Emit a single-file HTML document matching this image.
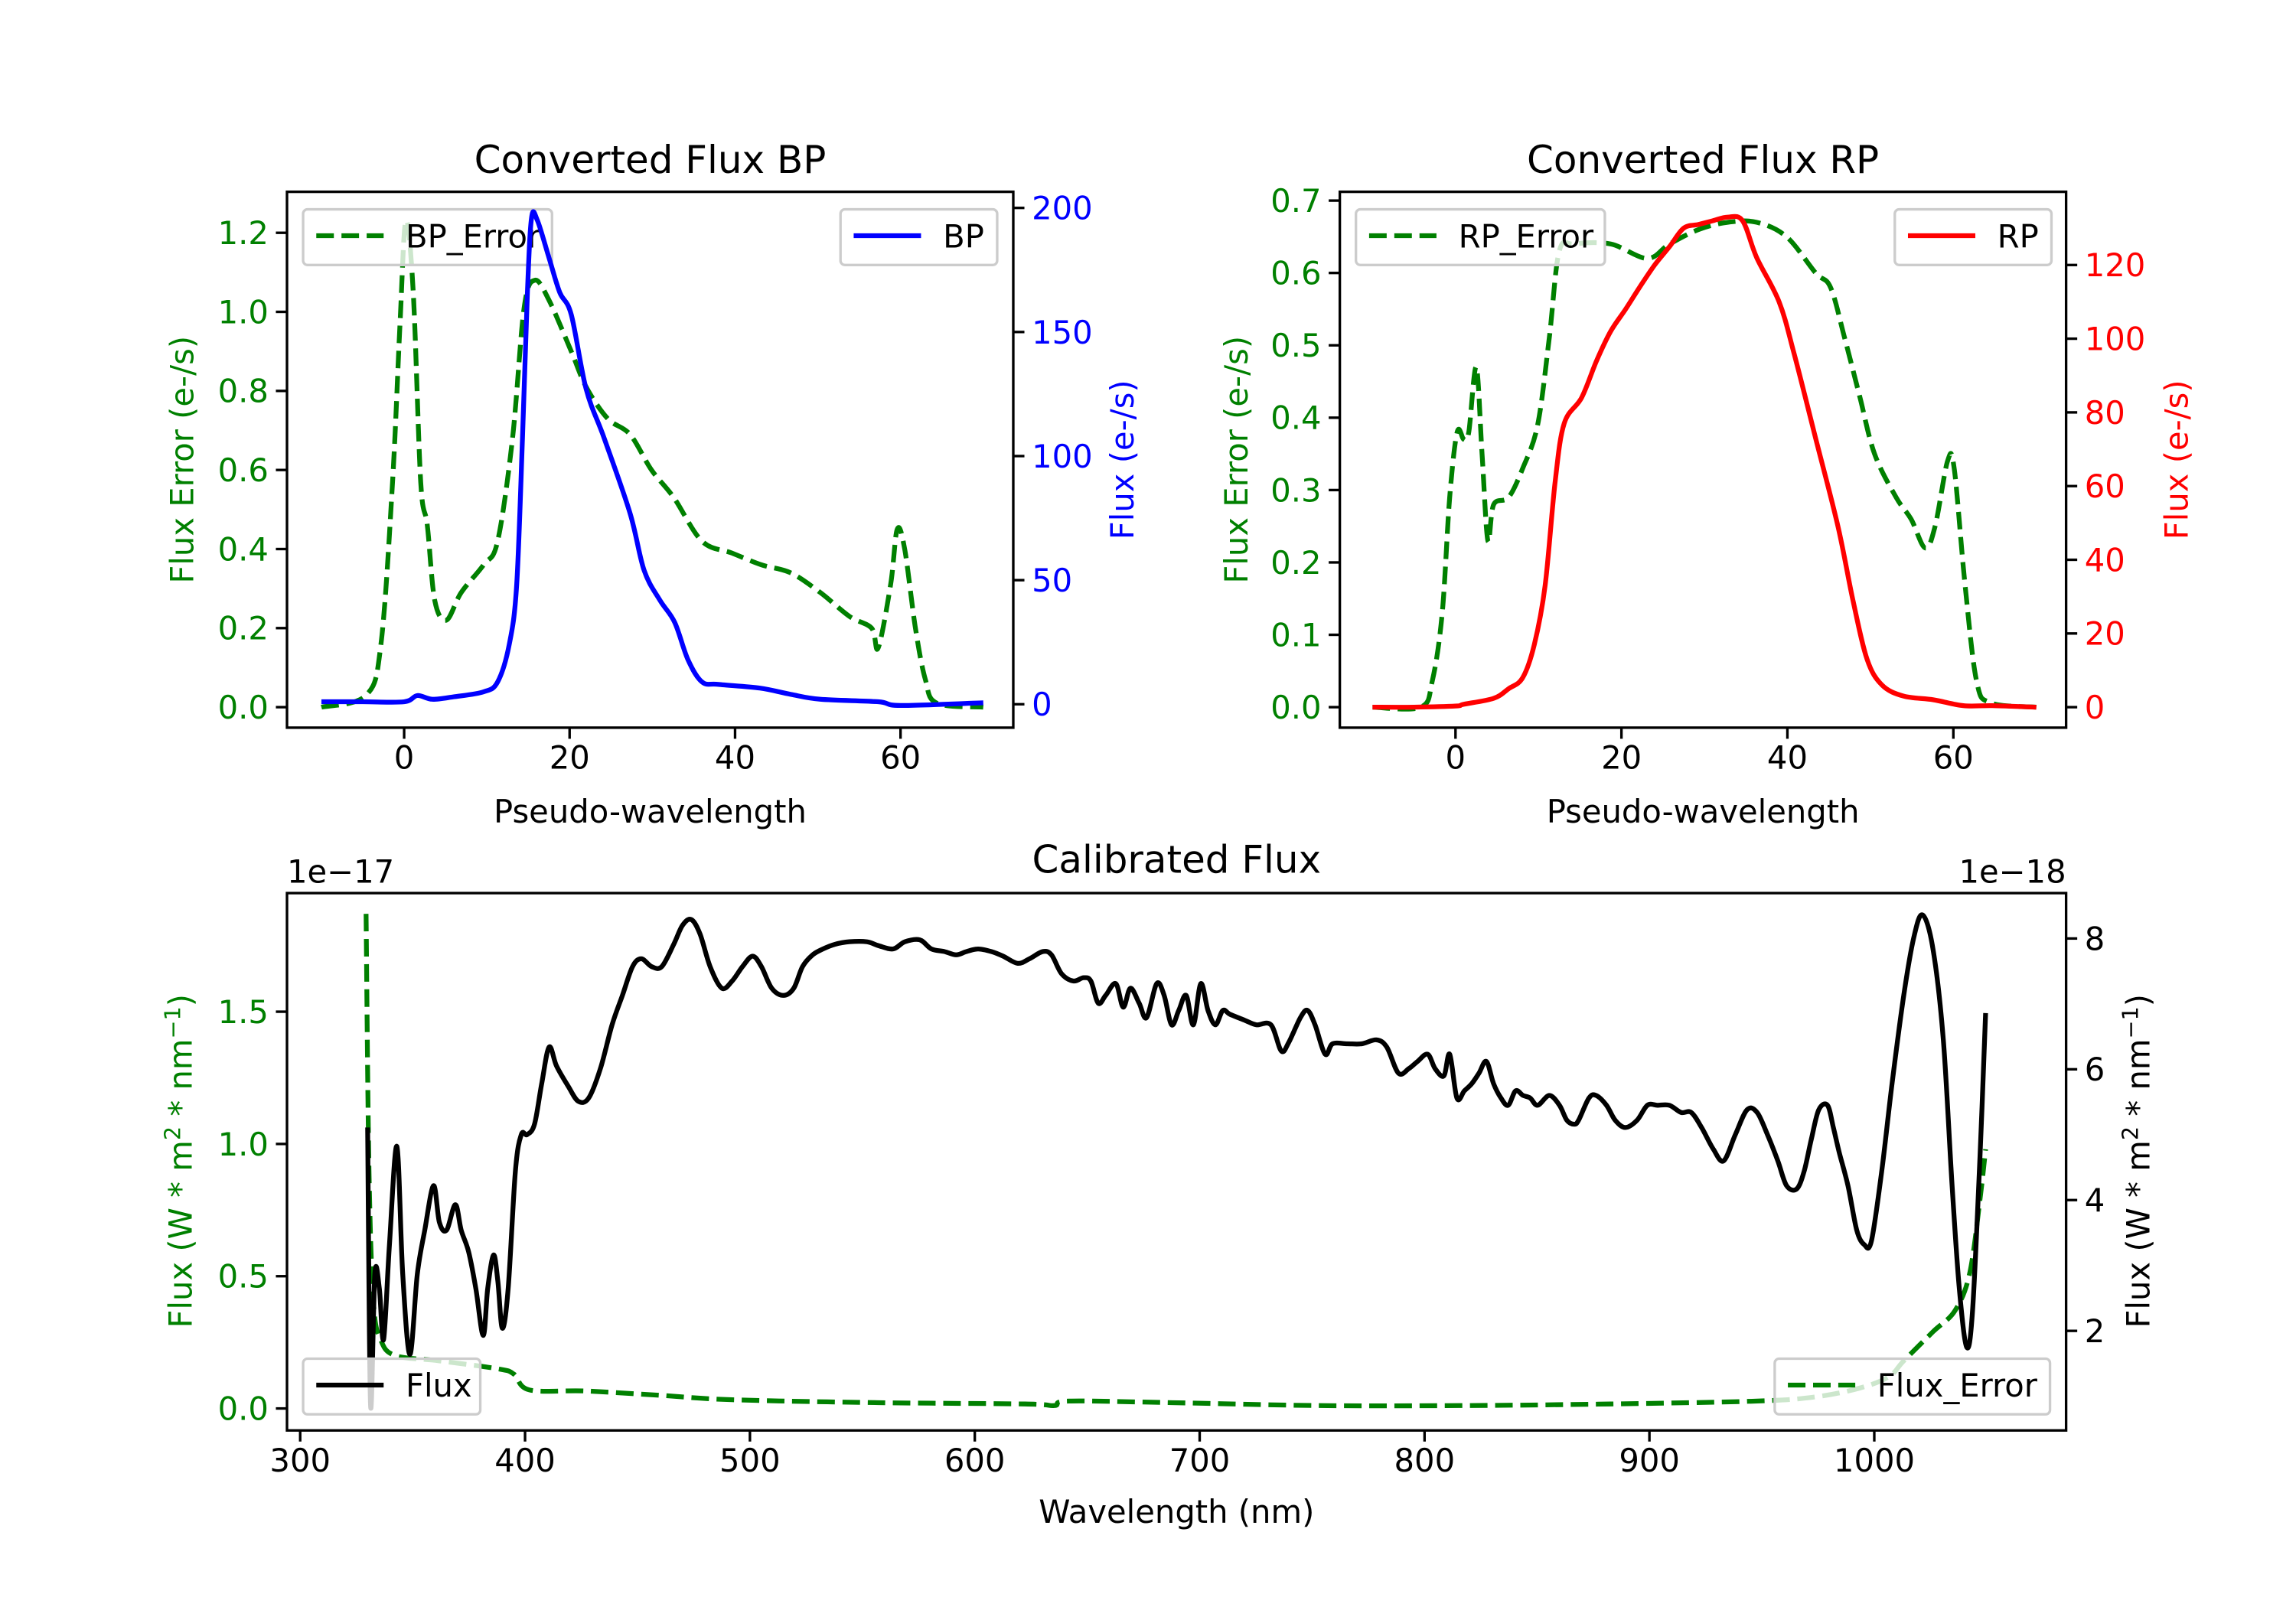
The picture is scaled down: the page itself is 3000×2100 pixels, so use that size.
<!DOCTYPE html>
<html><head><meta charset="utf-8"><style>
html,body{margin:0;padding:0;background:#fff;}
svg{display:block;font-family:"DejaVu Sans","Liberation Sans",sans-serif;}
</style></head><body>
<svg id="fig" xmlns="http://www.w3.org/2000/svg" width="3000" height="2100" viewBox="0 0 1568 1097.6">
<rect width="1568" height="1097.6" fill="#fff"/>
</svg>
<script>
// ---- BP data ----
const bpFluxX=[-10,-5,0,1.6,3.4,6,9.6,11.3,12.7,13.6,14.3,14.9,15.4,16.1,17.5,18.8,20.2,22,24.2,27.3,29,30.9,32.7,34.3,36,38,43,46.7,50.3,57.3,60,70];
const bpFluxY=[1,1,1,3.5,2,3,5,9,24,48,107,166,196,195,180,166,157,127,107,77,54,42,33,18,9,8,6.5,4,2,1,-0.5,0.6];
const bpErrX=[-10,-4.6,-2.8,-1.4,-0.5,0.2,1.1,2,2.8,3.7,5.1,6.9,9.6,11.3,13.1,14.5,15.8,17.5,20.2,22,24.6,27.3,29.9,32.6,36,39.6,43.2,46.7,50.3,53.8,56.5,57.3,58.8,59.6,60.5,61.8,63,64.4,70];
const bpErrY=[0,0.03,0.16,0.57,0.97,1.23,1.05,0.57,0.46,0.27,0.22,0.29,0.36,0.42,0.68,1.01,1.08,1.03,0.9,0.81,0.73,0.69,0.6,0.53,0.42,0.39,0.36,0.34,0.29,0.23,0.2,0.15,0.31,0.45,0.4,0.2,0.07,0.01,0];
const bpXTicks=[0,20,40,60];
const bpErrTicks=[0,0.2,0.4,0.6,0.8,1.0,1.2];
const bpFluxTicks=[0,50,100,150,200];
// ---- RP data ----
const rpFluxX=[-10,-5,0,1,4.6,6.4,8.1,9.5,10.8,12,13.1,15.2,17,18.7,20.5,22.2,24,25.8,27.5,29.3,31,32.8,34.6,36.3,39,40.8,43.4,46.1,47.9,49.6,51.4,54,57.6,61.2,64.7,70];
const rpFluxY=[0,0,0.3,0.8,2.4,5,8,17,33,61,77,84,94,102,108,114,120,125,130,131,132,133,132,122,110,96,73,49,29,13,6,3,2,0.4,0.4,0];
const rpErrX=[-10,-4.2,-2.8,-1.6,-0.7,0.2,1,1.6,2.5,3.2,3.9,4.6,6.4,8.1,9.9,11.3,12.5,14.3,18.7,23.1,25.8,29.3,32.8,36.3,39.9,43.4,45.2,46.9,48.7,50.5,53.1,54.9,56.6,57.8,59.3,60.1,61.4,62.8,64.5,70];
const rpErrY=[0,0,0.036,0.13,0.29,0.38,0.37,0.38,0.47,0.35,0.23,0.28,0.29,0.33,0.39,0.51,0.63,0.64,0.64,0.62,0.64,0.66,0.67,0.67,0.65,0.6,0.58,0.51,0.43,0.35,0.29,0.26,0.22,0.25,0.34,0.33,0.17,0.036,0.006,0];
const rpXTicks=[0,20,40,60];
const rpErrTicks=[0,0.1,0.2,0.3,0.4,0.5,0.6,0.7];
const rpFluxTicks=[0,20,40,60,80,100,120];
// ---- Calibrated data (flux in 1e-18, error in 1e-17) ----
const calWl=[330,331.3,333.2,335.2,337.1,339.7,343,345.6,348.8,352.1,355.4,359.3,361.9,365.1,369,371.6,374.9,378.1,381.4,383.4,386,387.9,389.9,392.5,395.7,398.3,400.9,404.2,407.4,410.7,414,419.2,423.7,428.3,433.5,438.7,443.3,447.8,451.7,456.3,460.8,466.1,470,473.9,477.8,482.3,487.5,492.1,496.7,501.2,505.1,509.7,514.9,519.5,523.4,527.9,532.5,537.7,544.2,552,557.2,563.7,568.9,575.5,580.7,586.5,591.7,596.3,601.5,607.4,612.6,619.1,624.3,630.2,634.1,638.6,643.8,648.4,651.6,654.9,658.2,662.7,666,669.2,673.1,676.4,680.9,684.2,687.5,690.7,694,697.2,700.5,703.7,707,710.3,713.5,720,725.2,731.7,736.3,739.6,744.8,748,751.3,755.8,759.1,765.6,772.1,778.6,783.2,788.4,793,796.9,801.4,804.7,808.6,811.2,814.4,817.7,821,824.2,827.5,830.7,834,837.2,840.5,843.8,847,850.3,855.5,860,863.3,866.5,868.5,873.1,876.3,880.9,884.8,889.3,894.5,899.1,903.6,908.9,914.1,918.6,923.2,928.4,933,938.2,943.4,947.9,952.5,957.1,961,965.5,968.8,972,975.3,979.2,981.8,984.4,988.3,992.2,995.5,998.7,1003.3,1007.9,1013.1,1017.6,1021.5,1026.1,1030.7,1034.6,1037.8,1041.1,1043.7,1047,1049.5];
const calFlux=[5.11,0.86,2.87,2.65,1.87,3.32,4.82,2.87,1.64,2.87,3.54,4.22,3.66,3.54,3.93,3.54,3.21,2.65,1.93,2.65,3.16,2.76,2.04,2.65,4.44,5.0,5.0,5.16,5.78,6.34,6.05,5.74,5.51,5.56,6.01,6.68,7.13,7.57,7.69,7.57,7.57,7.91,8.2,8.29,8.07,7.57,7.24,7.35,7.57,7.73,7.57,7.24,7.13,7.24,7.57,7.75,7.84,7.91,7.95,7.95,7.89,7.84,7.95,7.98,7.84,7.80,7.75,7.80,7.84,7.80,7.73,7.62,7.69,7.80,7.75,7.46,7.35,7.40,7.35,7.01,7.13,7.31,6.95,7.24,7.01,6.79,7.31,7.13,6.68,6.90,7.13,6.68,7.31,6.90,6.68,6.90,6.84,6.75,6.68,6.68,6.28,6.41,6.79,6.90,6.68,6.23,6.39,6.39,6.39,6.45,6.34,5.94,6.01,6.12,6.23,6.01,5.90,6.23,5.56,5.67,5.78,5.94,6.12,5.78,5.56,5.45,5.67,5.60,5.56,5.45,5.60,5.45,5.22,5.16,5.22,5.56,5.60,5.45,5.22,5.11,5.22,5.45,5.45,5.45,5.34,5.34,5.11,4.78,4.60,5.00,5.38,5.34,5.00,4.60,4.22,4.17,4.44,4.93,5.38,5.45,5.11,4.73,4.22,3.54,3.32,3.37,4.44,5.78,7.13,8.02,8.36,7.84,6.45,4.22,2.65,1.75,2.31,4.66,6.86];
const errWl=[329.3,330.6,332.6,335.8,342.3,361.9,387.9,395,402,427,459.5,492.1,557.2,622.3,635.4,641.9,687.5,752.6,817.7,882.8,947.9,974,993.5,1006.5,1013.1,1026.1,1035.9,1042.4,1047,1049.5];
const errVal=[1.87,0.9,0.4,0.26,0.2,0.18,0.15,0.13,0.07,0.066,0.05,0.033,0.022,0.017,0.011,0.028,0.022,0.011,0.011,0.017,0.028,0.044,0.077,0.12,0.18,0.29,0.37,0.51,0.79,0.98];
const calXTicks=[300,400,500,600,700,800,900,1000];
const calErrTicks=[0,0.5,1.0,1.5];
const calFluxTicks=[2,4,6,8];

const NS='http://www.w3.org/2000/svg';
const svg=document.getElementById('fig');
function mk(tag,attrs,parent){const e=document.createElementNS(NS,tag);for(const k in attrs)e.setAttribute(k,attrs[k]);(parent||svg).appendChild(e);return e;}
function txt(s,attrs,parent){const e=mk('text',attrs,parent);e.textContent=s;return e;}
function lin(d0,d1,p0,p1){return v=>p0+(v-d0)*(p1-p0)/(d1-d0);}
const FS=21.8, TS=26.1;
let clipId=0;
function smoothPath(P){
  let d='M'+P[0][0].toFixed(2)+','+P[0][1].toFixed(2);
  for(let i=0;i<P.length-1;i++){
    const p0=P[Math.max(i-1,0)],p1=P[i],p2=P[i+1],p3=P[Math.min(i+2,P.length-1)];
    const k=1/6;
    const c1x=p1[0]+(p2[0]-p0[0])*k,c1y=p1[1]+(p2[1]-p0[1])*k;
    const c2x=p2[0]-(p3[0]-p1[0])*k,c2y=p2[1]-(p3[1]-p1[1])*k;
    d+=' C'+c1x.toFixed(2)+','+c1y.toFixed(2)+' '+c2x.toFixed(2)+','+c2y.toFixed(2)+' '+p2[0].toFixed(2)+','+p2[1].toFixed(2);
  }
  return d;
}
function line(xs,ys,sx,sy,color,dash,name,box){
  const P=xs.map((x,i)=>[sx(x),sy(ys[i])]);
  const p=mk('path',{d:smoothPath(P),fill:'none',stroke:color,'stroke-width':3.27,'stroke-linejoin':'round','clip-path':'url(#'+box+')'});
  if(dash)p.setAttribute('stroke-dasharray','12,5.2');
  
  
}
function clip(L,T,R,B){const id='c'+(clipId++);const cp=mk('clipPath',{id:id});mk('rect',{x:L,y:T,width:R-L,height:B-T},cp);return id;}
function frame(L,T,R,B,name){const r=mk('rect',{x:L,y:T,width:R-L,height:B-T,fill:'none',stroke:'#000','stroke-width':1.74});
  
  }
function xticks(ticks,sx,B,name){ticks.forEach(t=>{const x=sx(t);mk('line',{x1:x,y1:B,x2:x,y2:B+7.6,stroke:'#000','stroke-width':1.74});
  const l=txt(String(t),{x:x,y:B+28,'font-size':FS,'text-anchor':'middle',fill:'#000'});
  
  });}
function yticks(ticks,sy,X,side,color,fmt,name){ticks.forEach(t=>{const y=sy(t);const d=side<0?-7.6:7.6;
  mk('line',{x1:X,y1:y,x2:X+d,y2:y,stroke:'#000','stroke-width':1.74});
  const l=txt(fmt(t),{x:X+d+(side<0?-5:5),y:y+7.8,'font-size':FS,'text-anchor':side<0?'end':'start',fill:color});
  
  });}
function ylabel(s,x,y,color,name){const l=txt(s,{x:x,y:y,'font-size':FS,'text-anchor':'middle',fill:color,transform:'rotate(-90 '+x+' '+y+')'});
  
  return l;}
function legend(x,y,w,label,color,dash,name){const g=mk('g',{});
  
  
  mk('rect',{x:x,y:y,width:w,height:38,rx:3,fill:'#fff','fill-opacity':0.8,stroke:'#ccc','stroke-width':1.74},g);
  const l=mk('line',{x1:x+9,y1:y+18,x2:x+55,y2:y+18,stroke:color,'stroke-width':3.27},g);
  if(dash)l.setAttribute('stroke-dasharray','12,5.2');
  txt(label,{x:x+70,y:y+26,'font-size':FS,fill:'#000'},g);}

// ===== BP panel =====
(function(){const L=196,T=131,R=692,B=497;const c=clip(L,T,R,B);
 const sx=lin(0,60,276,615), sy=lin(0,1.2,483,159), sy2=lin(0,200,481,142);
 line(bpErrX,bpErrY,sx,sy,'#008000',true,'bp-error-line',c);
 legend(207,143,170,'BP_Error','#008000',true,'bp-error-legend');
 line(bpFluxX,bpFluxY,sx,sy2,'#0000ff',false,'bp-flux-line',c);
 legend(574,143,107,'BP','#0000ff',false,'bp-legend');
 frame(L,T,R,B,'bp-axes');
 xticks(bpXTicks,sx,B,'bp-x');
 yticks(bpErrTicks,sy,L,-1,'#008000',t=>t.toFixed(1),'bp-error-y');
 yticks(bpFluxTicks,sy2,R,1,'#0000ff',t=>String(t),'bp-flux-y');
 let t=txt('Pseudo-wavelength',{x:(L+R)/2,y:562,'font-size':FS,'text-anchor':'middle'});
 
 
 ylabel('Flux Error (e-/s)',132,314,'#008000','bp-error-y-axis-title');
 ylabel('Flux (e-/s)',774,314,'#0000ff','bp-flux-y-axis-title');
 t=txt('Converted Flux BP',{x:(L+R)/2,y:118,'font-size':TS,'text-anchor':'middle'});
 
 
})();
// ===== RP panel =====
(function(){const L=915,T=131,R=1411,B=497;const c=clip(L,T,R,B);
 const sx=lin(0,60,994,1334), sy=lin(0,0.7,483,137), sy2=lin(0,120,483,181);
 line(rpErrX,rpErrY,sx,sy,'#008000',true,'rp-error-line',c);
 legend(926,143,170,'RP_Error','#008000',true,'rp-error-legend');
 line(rpFluxX,rpFluxY,sx,sy2,'#ff0000',false,'rp-flux-line',c);
 legend(1294,143,107,'RP','#ff0000',false,'rp-legend');
 frame(L,T,R,B,'rp-axes');
 xticks(rpXTicks,sx,B,'rp-x');
 yticks(rpErrTicks,sy,L,-1,'#008000',t=>t.toFixed(1),'rp-error-y');
 yticks(rpFluxTicks,sy2,R,1,'#ff0000',t=>String(t),'rp-flux-y');
 let t=txt('Pseudo-wavelength',{x:(L+R)/2,y:562,'font-size':FS,'text-anchor':'middle'});
 
 
 ylabel('Flux Error (e-/s)',852,314,'#008000','rp-error-y-axis-title');
 ylabel('Flux (e-/s)',1494,314,'#ff0000','rp-flux-y-axis-title');
 t=txt('Converted Flux RP',{x:(L+R)/2,y:118,'font-size':TS,'text-anchor':'middle'});
 
 
})();
// ===== Calibrated panel =====
(function(){const L=196,T=610,R=1411,B=977;const c=clip(L,T,R,B);
 const sx=lin(300,1000,205,1280), sy=lin(0,1.5,962,691), sy2=lin(2,8,909,641);
 line(errWl,errVal,sx,sy,'#008000',true,'flux-error-line',c);
 legend(1212,928,188,'Flux_Error','#008000',true,'flux-error-legend');
 line(calWl,calFlux,sx,sy2,'#000000',false,'flux-line',c);
 legend(207,928,121,'Flux','#000000',false,'flux-legend');
 frame(L,T,R,B,'calibrated-axes');
 xticks(calXTicks,sx,B,'cal-x');
 yticks(calErrTicks,sy,L,-1,'#008000',t=>t.toFixed(1),'cal-error-y');
 yticks(calFluxTicks,sy2,R,1,'#000000',t=>String(t),'cal-flux-y');
 let t=txt('Wavelength (nm)',{x:(L+R)/2,y:1040,'font-size':FS,'text-anchor':'middle'});
 
 
 let y1=ylabel('',131,793,'#008000','cal-error-y-axis-title');
 y1.innerHTML='Flux (W * m<tspan dy="-8" font-size="15">2</tspan><tspan dy="8"> * nm</tspan><tspan dy="-8" font-size="15">−1</tspan><tspan dy="8">)</tspan>';
 let y2=ylabel('',1468,793,'#000000','cal-flux-y-axis-title');
 y2.innerHTML='Flux (W * m<tspan dy="-8" font-size="15">2</tspan><tspan dy="8"> * nm</tspan><tspan dy="-8" font-size="15">−1</tspan><tspan dy="8">)</tspan>';
 t=txt('Calibrated Flux',{x:(L+R)/2,y:596,'font-size':TS,'text-anchor':'middle'});
 
 
 t=txt('1e−17',{x:L,y:603,'font-size':FS,'text-anchor':'start'});
 
 
 t=txt('1e−18',{x:R,y:603,'font-size':FS,'text-anchor':'end'});
 
 
})();
</script>
</body></html>
